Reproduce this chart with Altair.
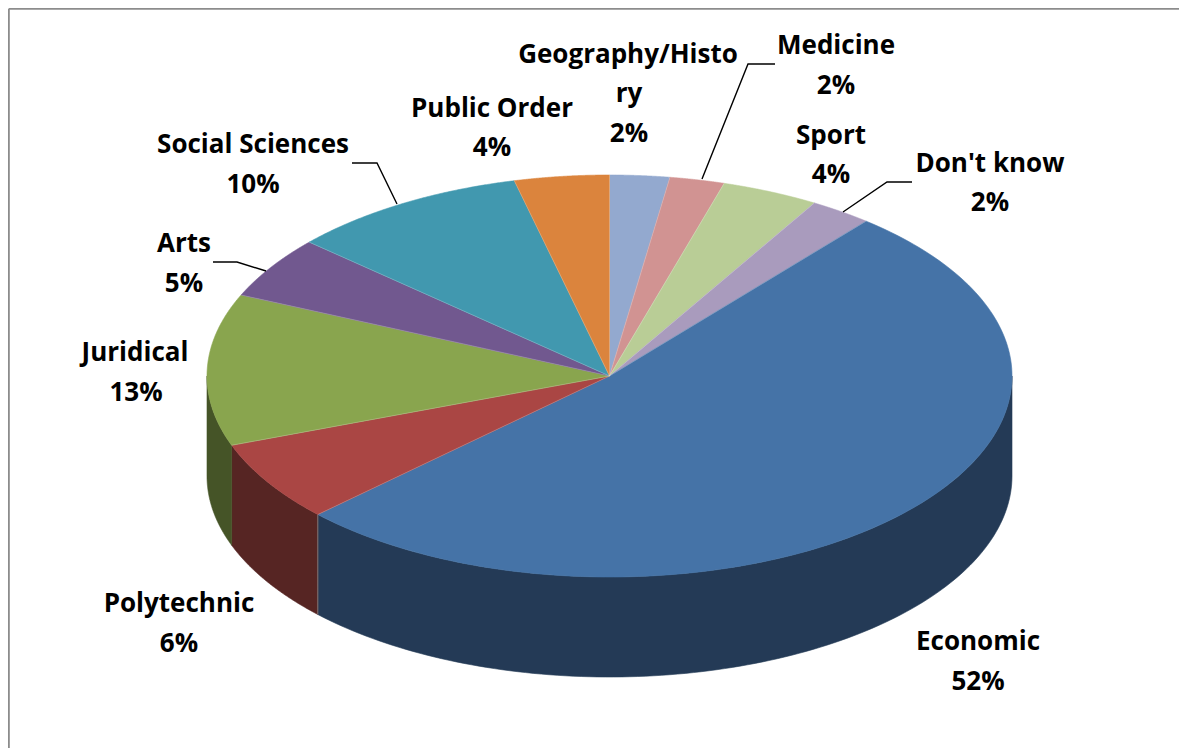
import numpy as np
import pandas as pd
import altair as alt

# Slices clockwise from 12 o'clock
categories = ["Geography/History", "Medicine", "Sport", "Don't know", "Economic",
              "Polytechnic", "Juridical", "Arts", "Social Sciences", "Public Order"]
shares = [2.4, 2.2, 3.9, 2.5, 51.9, 6.5, 12.2, 5.0, 9.6, 3.8]
top_colors = ["#93a9cf", "#d19392", "#b9cd96", "#a99bbd", "#4573a7",
              "#aa4644", "#89a54e", "#71588f", "#4198af", "#db843d"]
side_colors = {"Economic": "#243a56", "Polytechnic": "#562523", "Juridical": "#455427"}

# Label lines
label_text = ["Geography/Histo", "ry", "2%", "Medicine", "2%", "Sport", "4%", "Don't know", "2%",
              "Public Order", "4%", "Social Sciences", "10%", "Arts", "5%", "Juridical", "13%",
              "Polytechnic", "6%", "Economic", "52%"]
label_x = [628, 629, 629, 836, 836, 831, 831, 990, 990, 492, 492, 253, 253, 184, 184, 135, 136, 179, 179, 978, 978]
label_y = [55, 94, 134, 46, 86, 136, 175, 164, 203, 109, 148, 145, 185, 244, 284, 353, 393, 604, 644, 642, 682]

# Leader lines
leader_names = ["Medicine", "Don't know", "Social Sciences", "Arts"]
leader_x = [[702, 748, 775], [843, 887, 912], [397, 377, 352], [266, 237, 213]]
leader_y = [[179, 64, 64], [212, 182, 182], [204, 163, 163], [271, 262, 262]]

W, H = 1171, 740
CX, CY, RX, RY, DEPTH = 609.5, 376, 402.5, 201, 100
xs = alt.Scale(domain=[8, 8 + W], range=[0, W], nice=False, zero=False)
ys = alt.Scale(domain=[8 + H, 8], range=[H, 0], nice=False, zero=False)


def rim(t):
    return CX + RX * np.sin(t), CY - RY * np.cos(t)


def shape(px, py, color, stroke=None, sw=0.6):
    df = pd.DataFrame({"px": px, "py": py, "i": range(len(px))})
    return alt.Chart(df).mark_line(fill=color, stroke=stroke or color, strokeWidth=sw, interpolate="linear").encode(
        x=alt.X("px:Q", scale=xs, axis=None),
        y=alt.Y("py:Q", scale=ys, axis=None),
        order="i:Q",
    )


edges = np.cumsum([0] + shares) / sum(shares) * 2 * np.pi
layers = []

# Border of the frame
layers.append(shape([8.8, 8.8], [8 + H, 8.8], "#8c8c8c", sw=2))
layers.append(shape([8.8, 8 + W], [8.8, 8.8], "#8c8c8c", sw=2))

# Visible front wall
for k, name in enumerate(categories):
    if name in side_colors:
        a = max(edges[k], np.pi / 2)
        b = min(edges[k + 1], 3 * np.pi / 2)
        t = np.linspace(a, b, 120)
        x, y = rim(t)
        px = list(x) + list(x[::-1]) + [x[0]]
        py = list(y) + list((y + DEPTH)[::-1]) + [y[0]]
        layers.append(shape(px, py, side_colors[name]))

# Pale seams on the wall
for k, name in enumerate(categories):
    if name == "Economic":
        x, y = rim(edges[k + 1])
        layers.append(shape([x, x], [y, y + DEPTH], "#8a8a8a", sw=0.8))

# Top face
for k, name in enumerate(categories):
    t = np.linspace(edges[k], edges[k + 1], 160)
    x, y = rim(t)
    px = [CX] + list(x) + [CX]
    py = [CY] + list(y) + [CY]
    layers.append(shape(px, py, top_colors[k]))

# Pale seams on the top
for k in range(len(categories)):
    x, y = rim(edges[k])
    df = shape([CX, x], [CY, y], "#ffffff", sw=0.6)
    layers.append(df.mark_line(stroke="#ffffff", strokeWidth=0.6, opacity=0.35))

# Leaders
for lx, ly in zip(leader_x, leader_y):
    df = pd.DataFrame({"px": lx, "py": ly, "i": range(len(lx))})
    layers.append(alt.Chart(df).mark_line(stroke="#000000", strokeWidth=1.4).encode(
        x=alt.X("px:Q", scale=xs, axis=None),
        y=alt.Y("py:Q", scale=ys, axis=None),
        order="i:Q",
    ))

labels = pd.DataFrame({"t": label_text, "px": label_x, "py": label_y})
layers.append(alt.Chart(labels).mark_text(
    font="Open Sans", fontWeight="bold", fontSize=26, color="#000000", align="center", baseline="middle"
).encode(
    x=alt.X("px:Q", scale=xs, axis=None),
    y=alt.Y("py:Q", scale=ys, axis=None),
    text="t:N",
))

chart = alt.layer(*layers).properties(
    width=W, height=H, padding=0,
    autosize=alt.AutoSizeParams(type="none", contains="content"),
    background="#ffffff",
).configure_view(stroke=None)

chart.save("out.html", embed_options={"renderer": "svg", "actions": False})
